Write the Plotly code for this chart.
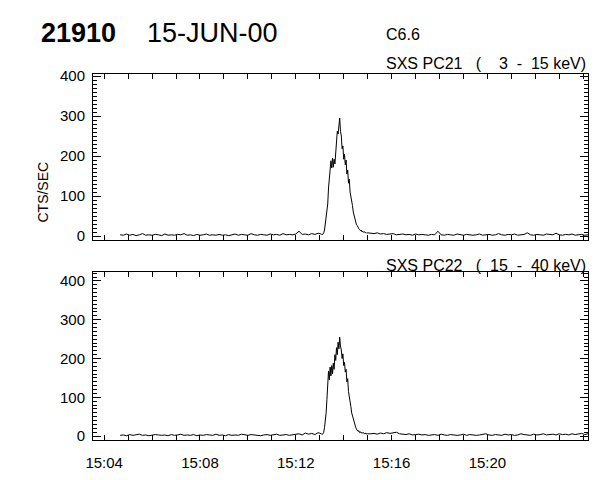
import pandas as pd
import plotly.graph_objects as go
from plotly.subplots import make_subplots

# PC21 (3 - 15 keV) counts/sec
pc21_pre = [3, 2, 5, 2, 4, 1, 3, 6, 2, 3, 2, 4, 3, 1, 5, 2, 3, 2, 4, 3,
            6, 2, 3, 1, 4, 2, 3, 5, 2, 3, 2, 4, 2, 3, 1, 3, 5, 2, 4, 3,
            2, 6, 3, 2, 4, 3, 2, 5, 3, 4, 2, 6, 3, 4, 3, 5, 12, 4, 5, 3,
            6, 4, 7, 5]
pc21_flare = [3, 5, 8, 15, 30, 45, 55, 80, 120, 150, 172, 188, 170, 195, 172,
              192, 180, 215, 235, 262, 255, 280, 295, 262, 250, 218, 225, 192,
              205, 178, 190, 155, 165, 132, 142, 110, 100, 82, 76, 60, 52, 42,
              38, 28, 26, 20, 18, 16, 13, 15, 10, 12, 9, 11, 8, 9, 7, 8]
pc21_post = [7, 6, 8, 5, 6, 4, 5, 6, 3, 4, 5, 3, 4, 2, 5, 3, 4, 3, 2, 4,
             3, 12, 3, 2, 4, 3, 2, 5, 3, 2, 4, 3, 2, 3, 5, 2, 3, 4, 2, 3,
             6, 3, 2, 4, 3, 5, 2, 3, 4, 8, 3, 2, 4, 3, 2, 5, 4, 3, 7, 3,
             2, 4, 3, 5, 2, 3, 4, 2, 3]

# PC22 (15 - 40 keV) counts/sec
pc22_pre = [2, 3, 1, 4, 2, 3, 5, 2, 3, 1, 2, 4, 3, 2, 3, 1, 4, 2, 3, 5,
            2, 3, 2, 4, 1, 3, 2, 4, 3, 2, 5, 2, 3, 1, 4, 2, 3, 2, 5, 3,
            2, 4, 3, 2, 1, 3, 4, 2, 3, 5, 2, 3, 4, 2, 3, 4, 6, 3, 8, 5,
            7, 4, 9, 6]
pc22_flare = [4, 6, 10, 22, 40, 60, 95, 130, 168, 145, 178, 155, 182, 160, 188,
              172, 210, 195, 228, 210, 242, 225, 255, 232, 222, 200, 212, 182,
              190, 165, 172, 140, 148, 115, 104, 86, 76, 60, 52, 42, 35, 27,
              23, 18, 15, 12, 14, 9, 11, 8, 10, 7, 9, 6, 8, 5, 7, 6]
pc22_post = [6, 7, 5, 8, 6, 9, 7, 8, 10, 6, 5, 4, 6, 3, 4, 5, 3, 4, 2, 3,
             4, 2, 5, 3, 2, 4, 3, 2, 3, 5, 2, 4, 3, 2, 3, 4, 6, 3, 2, 4,
             3, 2, 5, 3, 4, 2, 3, 6, 4, 3, 2, 5, 3, 4, 6, 3, 4, 5, 3, 6,
             4, 5, 3, 6, 4, 5, 7, 4, 6]

# sample start times and cadence of each segment
seg_starts = ['2000-06-15 15:04:40', '2000-06-15 15:13:06', '2000-06-15 15:15:08']
seg_steps = ['8s', '2s', '8s']

x_range = ['2000-06-15 15:03:32', '2000-06-15 15:24:12']
tick_labels = ['15:04', '15:08', '15:12', '15:16', '15:20']
tick_vals = ['2000-06-15 ' + t for t in tick_labels]

FONT = 'Liberation Sans, Arial, sans-serif'


def times(segments):
    out = []
    for start, step, vals in zip(seg_starts, seg_steps, segments):
        out.extend(pd.date_range(start, periods=len(vals), freq=step))
    return out


fig = make_subplots(rows=2, cols=1)

fig.add_trace(go.Scatter(x=times([pc21_pre, pc21_flare, pc21_post]),
                         y=pc21_pre + pc21_flare + pc21_post,
                         mode='lines', line=dict(color='black', width=1)), row=1, col=1)
fig.add_trace(go.Scatter(x=times([pc22_pre, pc22_flare, pc22_post]),
                         y=pc22_pre + pc22_flare + pc22_post,
                         mode='lines', line=dict(color='black', width=1)), row=2, col=1)

axis_common = dict(showline=True, linecolor='black', linewidth=1, mirror='allticks',
                   ticks='inside', tickcolor='black', showgrid=False, zeroline=False,
                   automargin=False,
                   tickfont=dict(family=FONT, size=15, color='black'))

fig.update_xaxes(range=x_range, tickvals=tick_vals, ticktext=tick_labels, ticklen=5,
                 minor=dict(dtick=60000, ticks='inside', ticklen=5, tickcolor='black'),
                 ticklabelstandoff=9, **axis_common)
fig.update_xaxes(showticklabels=False, row=1, col=1)
fig.update_yaxes(dtick=100, ticklen=8, ticklabelstandoff=4,
                 minor=dict(dtick=10, ticks='inside', ticklen=4, tickcolor='black'),
                 **axis_common)
fig.update_yaxes(range=[-10, 405], row=1, col=1)
fig.update_yaxes(range=[-10, 423], row=2, col=1)

# the page body adds an 8px margin, so the figure is 16px smaller than the window
fig.update_layout(
    width=584, height=464,
    margin=dict(l=85, r=4, t=66, b=32, autoexpand=False),
    paper_bgcolor='white', plot_bgcolor='white',
    showlegend=False,
    font=dict(family=FONT, color='black'),
    xaxis=dict(domain=[0, 1]), yaxis=dict(domain=[0.5464, 1.0]),
    yaxis2=dict(domain=[0, 0.459]),
)

nb = '\u00a0'
notes = [
    dict(text='<b>21910</b>', x=-0.1091, y=1.112, xanchor='left', size=27),
    dict(text='15-JUN-00', x=0.105, y=1.112, xanchor='left', size=27),
    dict(text='C6.6', x=0.588, y=1.107, xanchor='left', size=16),
    dict(text=f'SXS PC21{nb*3}({nb*4}3{nb*2}-{nb*2}15 keV)', x=1.0, y=1.028,
         xanchor='right', size=16),
    dict(text=f'SXS PC22{nb*3}({nb*2}15{nb*2}-{nb*2}40 keV)', x=1.0, y=0.476,
         xanchor='right', size=16),
]
for n in notes:
    fig.add_annotation(text=n['text'], x=n['x'], y=n['y'], xref='paper', yref='paper',
                       xanchor=n['xanchor'], yanchor='middle', showarrow=False,
                       font=dict(family=FONT, size=n['size'], color='black'))

fig.add_annotation(text='CTS/SEC', x=-0.103, y=0.765, xref='paper', yref='paper',
                   xanchor='center', textangle=-90, showarrow=False,
                   font=dict(family=FONT, size=14, color='black'))

fig.write_html('out.html')
